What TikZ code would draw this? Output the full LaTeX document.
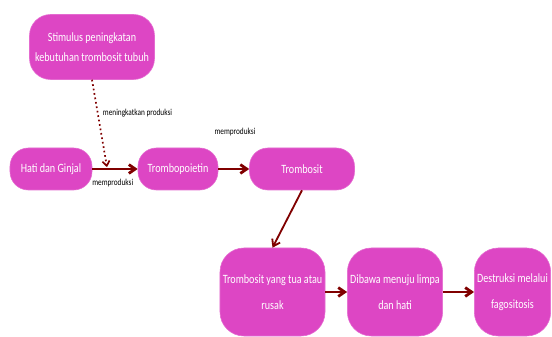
\documentclass[tikz,border=0pt]{standalone}
\usepackage{fontspec}
\setmainfont{Carlito}[FakeStretch=0.8]
\usetikzlibrary{arrows.meta, positioning}

\definecolor{boxpink}{RGB}{221,70,196}
\definecolor{arrowred}{RGB}{128,0,0}

\begin{document}
\begin{tikzpicture}[
    every node/.style={font=\fontsize{9}{12}\selectfont},
    box/.style={rectangle, draw=boxpink!80!white, fill=boxpink, text=white, align=center, rounded corners=13pt, inner sep=2pt},
    tallbox/.style={box, minimum height=2.2cm, rounded corners=17pt, font=\fontsize{9}{18.5}\selectfont},
    arrow/.style={-{Straight Barb[length=1.6mm, width=2.2mm]}, line width=2pt, arrowred},
    dottedarrow/.style={-{Straight Barb[length=1.2mm, width=1.8mm]}, line width=1.2pt, arrowred, dotted},
    label/.style={font=\fontsize{6.5}{8}\selectfont, text=black}
]
\useasboundingbox (0,0) rectangle (13.8,8.4);

% ============ TOP ROW ============
\node[box, minimum width=3.125cm, minimum height=1.625cm, rounded corners=15pt, font=\fontsize{9}{14}\selectfont] (stimulus) at (2.3, 7.225) {Stimulus peningkatan\\kebutuhan trombosit tubuh};

% ============ MIDDLE ROW ============
\node[box, minimum width=2.05cm, minimum height=1.05cm] (hati) at (1.275, 4.175) {Hati dan Ginjal};
\node[box, minimum width=2cm, minimum height=1.05cm] (tpo) at (4.45, 4.175) {Trombopoietin};
\node[box, minimum width=2.625cm, minimum height=1.05cm] (trombosit) at (7.55, 4.175) {Trombosit};

% ============ BOTTOM ROW ============
\node[tallbox, minimum width=2.625cm] (tua) at (6.8125, 1.1) {Trombosit yang tua atau\\rusak};
\node[tallbox, minimum width=2.25cm] (limpa) at (9.875, 1.1) {Dibawa menuju limpa\\dan hati};
\node[tallbox, minimum width=1.875cm] (destruksi) at (12.8125, 1.1) {Destruksi melalui\\fagositosis};

% ============ CONNECTIONS ============
\draw[arrow] (hati) -- node[label, below=3pt, pos=0.45] {memproduksi} (tpo);
\draw[arrow] (tpo) -- (trombosit);
\node[label] (lblprod) at (5.875, 5.1) {memproduksi};

% Stimulus to production
\coordinate (hit) at (2.675, 4.22);
\draw[dottedarrow] (stimulus.south) -- (hit);
\node[label, anchor=west] (lblnaik) at (2.45, 5.575) {meningkatkan produksi};

% Lifespan
\draw[arrow, line width=1.3pt] (trombosit.south) -- (tua.north);
\draw[arrow] (tua) -- (limpa);
\draw[arrow] (limpa) -- (destruksi);

\end{tikzpicture}
\end{document}
